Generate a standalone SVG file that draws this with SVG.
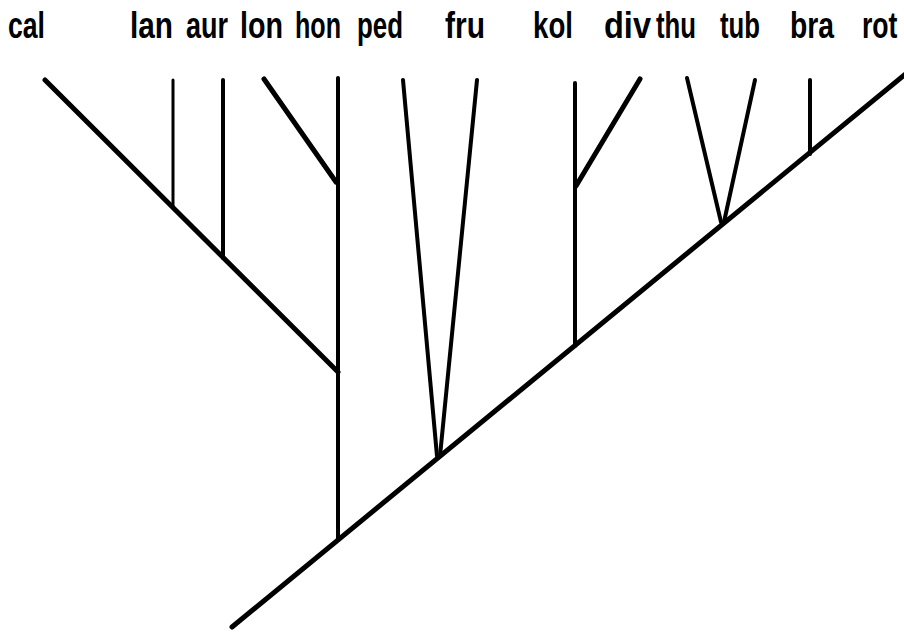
<svg xmlns="http://www.w3.org/2000/svg" width="904" height="632" viewBox="0 0 904 632">
<style>
.lbl{font-family:"Liberation Sans","DejaVu Sans",sans-serif;font-weight:bold;font-size:37px;fill:#000}
.br{stroke:#000;stroke-linecap:round;fill:none}
.thick{stroke-width:5}
.mid{stroke-width:4}
.thin{stroke-width:3}
</style>
<rect width="904" height="632" fill="#fff"/>
<g id="edges">
<line class="br thick" x1="232" y1="627" x2="908" y2="72"/>
<line class="br thick" x1="45" y1="80" x2="338" y2="372"/>
<line class="br thin" x1="173" y1="80" x2="173" y2="206"/>
<line class="br mid" x1="223" y1="80" x2="223" y2="258"/>
<line class="br thick" x1="264" y1="79" x2="336" y2="182"/>
<line class="br mid" x1="338" y1="78" x2="338" y2="540"/>
<line class="br mid" x1="403" y1="80" x2="437" y2="456"/>
<line class="br mid" x1="477" y1="80" x2="440" y2="456"/>
<line class="br mid" x1="575" y1="83" x2="575" y2="346"/>
<line class="br thick" x1="640" y1="79" x2="576" y2="186"/>
<line class="br mid" x1="687" y1="78" x2="721" y2="222"/>
<line class="br mid" x1="755" y1="80" x2="724" y2="222"/>
<line class="br mid" x1="810" y1="80" x2="810" y2="154"/>
</g>
<g id="cal"><text class="lbl" x="8" y="38" textLength="37" lengthAdjust="spacingAndGlyphs">cal</text></g>
<g id="lan"><text class="lbl" x="130" y="38" textLength="43" lengthAdjust="spacingAndGlyphs">lan</text></g>
<g id="aur"><text class="lbl" x="186" y="38" textLength="42" lengthAdjust="spacingAndGlyphs">aur</text></g>
<g id="lon"><text class="lbl" x="240" y="38" textLength="43" lengthAdjust="spacingAndGlyphs">lon</text></g>
<g id="hon"><text class="lbl" x="295" y="38" textLength="46" lengthAdjust="spacingAndGlyphs">hon</text></g>
<g id="ped"><text class="lbl" x="357" y="38" textLength="46" lengthAdjust="spacingAndGlyphs">ped</text></g>
<g id="fru"><text class="lbl" x="445" y="38" textLength="40" lengthAdjust="spacingAndGlyphs">fru</text></g>
<g id="kol"><text class="lbl" x="533" y="38" textLength="40" lengthAdjust="spacingAndGlyphs">kol</text></g>
<g id="div"><text class="lbl" x="604" y="38" textLength="47" lengthAdjust="spacingAndGlyphs">div</text></g>
<g id="thu"><text class="lbl" x="656" y="38" textLength="40" lengthAdjust="spacingAndGlyphs">thu</text></g>
<g id="tub"><text class="lbl" x="720" y="38" textLength="40" lengthAdjust="spacingAndGlyphs">tub</text></g>
<g id="bra"><text class="lbl" x="790" y="38" textLength="44" lengthAdjust="spacingAndGlyphs">bra</text></g>
<g id="rot"><text class="lbl" transform="translate(862,38) scale(0.72,1)">rot</text></g>
</svg>
